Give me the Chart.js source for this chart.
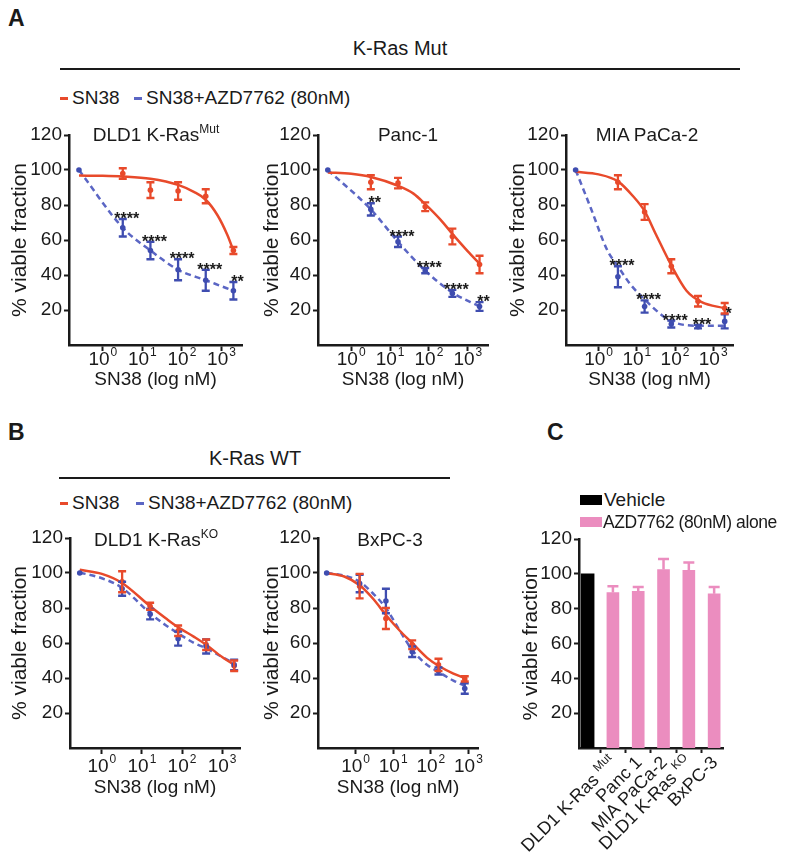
<!DOCTYPE html>
<html><head><meta charset="utf-8">
<script src="https://cdn.jsdelivr.net/npm/chart.js@4.4.1/dist/chart.umd.min.js"></script>
<style>
html,body{margin:0;padding:0;background:#fff;}
#fig{position:relative;width:800px;height:860px;overflow:hidden;background:#fff;color:#1a1a1a;}
#fig canvas{position:absolute;}
.t{position:absolute;white-space:nowrap;line-height:1.15;}
.sup{position:relative;top:-8px;font-size:13px;}
.r{position:absolute;}
</style></head><body><div id="fig"></div>
<script>
// ================= DATA =================
const xTickValues = [1, 10, 100, 1000];
const yTickValues = [20, 40, 60, 80, 100, 120];

// ---- Panel A : K-Ras Mut ----
const concA = [0.25, 3.2, 16, 80, 400, 2000];

const dld1MutSn38      = [null, 98, 88.5, 88, 85, 54];
const dld1MutSn38Err   = [0, 3, 4.5, 5, 4, 2];
const dld1MutCombo     = [100, 67, 54, 43, 37, 31];
const dld1MutComboErr  = [0, 5, 5, 6, 6, 5];
const dld1MutStars     = ['', '****', '****', '****', '****', '**'];
const dld1MutSn38FitX  = [0.25, 1, 3.2, 16, 80, 200, 400, 800, 1400, 2000];
const dld1MutSn38FitY  = [96.8, 96.7, 96.3, 95, 91.5, 87.5, 83, 74, 63, 54];
const dld1MutComboFitX = [0.25, 3.2, 16, 80, 400, 2000];
const dld1MutComboFitY = [100, 67, 54, 43, 37, 31];

const panc1Sn38      = [null, 93, 92.5, 79, 62, 46];
const panc1Sn38Err   = [0, 4, 3, 2.5, 4.5, 5];
const panc1Combo     = [100, 77.5, 59, 42.5, 29.5, 22];
const panc1ComboErr  = [0, 3.5, 3, 1.5, 2, 2.5];
const panc1Stars     = ['', '**', '****', '****', '****', '**'];
const panc1Sn38FitX  = [0.25, 1, 3.2, 16, 40, 80, 200, 400, 1000, 2000];
const panc1Sn38FitY  = [98.6, 97.8, 96, 91, 86.5, 80.5, 71.5, 63.5, 53.5, 46.5];
const panc1ComboFitX = [0.25, 3.2, 16, 80, 400, 2000];
const panc1ComboFitY = [100, 77.5, 59, 42.5, 30, 22];

const miaSn38      = [null, 93, 76, 45, 25, 21];
const miaSn38Err   = [0, 4, 4.5, 4, 3, 3];
const miaCombo     = [100, 39, 22, 12, 10.5, 13.5];
const miaComboErr  = [0, 6, 3.5, 2, 1, 4];
const miaStars     = ['', '****', '****', '****', '***', '*'];
const miaSn38FitX  = [0.25, 1, 3.2, 8, 16, 32, 80, 200, 500, 2000];
const miaSn38FitY  = [99, 97.5, 93.5, 85, 76.5, 63, 45.5, 31, 24.5, 21];
const miaComboFitX = [0.25, 0.63, 1.7, 3.2, 6.6, 16, 40, 80, 400, 2000];
const miaComboFitY = [100, 78, 54, 45, 35, 26, 18, 13.5, 11, 11];

// ---- Panel B : K-Ras WT ----
const concB1 = [0.28, 3.2, 16, 80, 400, 2000];
const dld1KoSn38      = [null, 95, 81, 67, 59, 47];
const dld1KoSn38Err   = [0, 6, 2, 3, 3, 3];
const dld1KoCombo     = [100, 91, 76.5, 62.5, 58, 47.5];
const dld1KoComboErr  = [0, 4, 3, 4, 4, 3];
const dld1KoSn38FitX  = [0.28, 1, 3.2, 16, 40, 80, 200, 400, 1000, 2000];
const dld1KoSn38FitY  = [101.8, 99.5, 94.3, 81, 74, 69, 63.5, 59, 52, 47.5];
const dld1KoComboFitX = [0.28, 1, 3.2, 16, 40, 80, 200, 400, 1000, 2000];
const dld1KoComboFitY = [100.3, 97, 91.5, 77, 70, 65.5, 60, 57, 52, 48.5];

const concB2 = [0.17, 1.28, 6.4, 32, 160, 800];
const bxSn38      = [null, 92.5, 74, 59, 47.5, 39.5];
const bxSn38Err   = [0, 7, 6, 2.5, 3.5, 1.5];
const bxCombo     = [100, 94, 84, 55, 44, 34];
const bxComboErr  = [0, 5, 7, 3, 2, 3];
const bxSn38FitX  = [0.17, 0.5, 1.28, 3, 6.4, 15, 32, 80, 160, 400, 800];
const bxSn38FitY  = [100, 98, 93, 85, 76, 67, 60, 51.5, 47, 42.5, 40];
const bxComboFitX = [0.17, 0.5, 1.28, 3, 6.4, 15, 32, 80, 160, 400, 800];
const bxComboFitY = [100, 98.5, 95, 88, 80, 67, 56, 47.5, 43.5, 38.5, 35.5];

// ---- Panel C ----
const cIndex   = [0, 1, 2, 3, 4, 5];
const cCatMain = ['', 'DLD1 K-Ras ', 'Panc 1', 'MIA PaCa-2', 'DLD1 K-Ras ', 'BxPC-3'];
const cCatSup  = ['', 'Mut', '', '', 'KO', ''];
const vehicle  = [100, null, null, null, null, null];
const azdAlone = [null, 89.3, 90, 102.5, 102, 88.5];
const azdErr   = [0, 3.5, 2.5, 6, 4.5, 4];

// ================= STYLE =================
const INK = '#1a1a1a';
const RED = '#E84A2B';
const BLUE = '#5B66C4';
const BLUE_DK = '#3F4DB0';
const PINK = '#EB8DBF';

function detectNarrow(){
  const c = document.createElement('canvas').getContext('2d');
  const s = 'abcdefghijklmnopqrstuvwxyzABCDEFGHIJKLMNOPQRSTUVWXYZ0123456789';
  c.font = '40px monospace'; const w1 = c.measureText(s).width;
  c.font = '40px "Liberation Sans Narrow", monospace'; const w2 = c.measureText(s).width;
  return Math.abs(w1 - w2) > 1;
}
const NARROW = detectNarrow();
const HFONT = NARROW ? '"Liberation Sans Narrow", "Liberation Sans", Arial, sans-serif' : '"Liberation Sans", Arial, sans-serif';
const HSIZE = NARROW ? 22 : 19;
const SUPSIZE = NARROW ? 14 : 12;
const VFONT = '"Liberation Sans", Arial, sans-serif';

Chart.defaults.font.family = HFONT;
Chart.defaults.color = INK;
Chart.defaults.animation = false;

const fig = document.getElementById('fig');
const pts = (xs, ys) => xs.map((x, i) => ({x: x, y: ys[i]}));

// error bars + stars
const errPlugin = {
  id: 'errbars',
  afterDatasetsDraw(chart) {
    const ctx = chart.ctx, xs = chart.scales.x, ys = chart.scales.y;
    chart.data.datasets.forEach(ds => {
      if (!ds.errs) return;
      ctx.save();
      ctx.strokeStyle = ds.errColor; ctx.lineWidth = ds.errWidth || 2.3;
      const cap = ds.cap || 4;
      ds.data.forEach((p, i) => {
        const e = ds.errs[i];
        if (p.y == null) return;
        const px = xs.getPixelForValue(p.x);
        const top = ys.getPixelForValue(p.y + e);
        const bot = ys.getPixelForValue(ds.upOnly ? p.y : p.y - e);
        if (e) {
          ctx.beginPath();
          ctx.moveTo(px, top); ctx.lineTo(px, bot);
          ctx.moveTo(px - cap, top); ctx.lineTo(px + cap, top);
          if (!ds.upOnly) { ctx.moveTo(px - cap, bot); ctx.lineTo(px + cap, bot); }
          ctx.stroke();
        }
        if (ds.stars && ds.stars[i]) {
          ctx.fillStyle = INK; ctx.font = 'bold 16px ' + VFONT;
          ctx.textAlign = 'center'; ctx.textBaseline = 'alphabetic';
          ctx.fillText(ds.stars[i], px + 4, top + 5);
        }
      });
      ctx.restore();
    });
  }
};

function logTickPlugin(yPos) {
  return {
    id: 'logticks',
    afterDraw(chart) {
      const ctx = chart.ctx, xs = chart.scales.x;
      ctx.save(); ctx.fillStyle = INK; ctx.textBaseline = 'middle'; ctx.textAlign = 'left';
      xTickValues.forEach(v => {
        const px = xs.getPixelForValue(v);
        const exp = String(Math.round(Math.log10(v)));
        ctx.font = HSIZE + 'px ' + HFONT; const wb = ctx.measureText('10').width;
        ctx.font = SUPSIZE + 'px ' + HFONT; const we = ctx.measureText(exp).width;
        const x0 = px - (wb + we + 1) / 2;
        ctx.font = HSIZE + 'px ' + HFONT; ctx.fillText('10', x0, yPos);
        ctx.font = SUPSIZE + 'px ' + HFONT; ctx.fillText(exp, x0 + wb + 1, yPos - 7);
      });
      ctx.restore();
    }
  };
}

function yScale(yW) {
  return {
    min: 0, max: 120,
    afterBuildTicks: s => { s.ticks = yTickValues.map(v => ({value: v})); },
    afterFit: s => { s.width = yW; },
    ticks: {font: {size: HSIZE, family: HFONT}, color: INK, padding: 2},
    grid: {drawOnChartArea: false, drawTicks: true, tickLength: 5, tickWidth: 2, tickColor: INK},
    border: {display: true, width: 2.5, color: INK},
    title: {display: true, text: '% viable fraction', color: INK,
            font: {size: 21, family: VFONT}, padding: {top: 20 - 12.6, bottom: 0}}
  };
}

function makeCanvas(l, t, w, h) {
  const cv = document.createElement('canvas');
  cv.width = w; cv.height = h;
  cv.style.left = l + 'px'; cv.style.top = t + 'px';
  fig.appendChild(cv);
  return cv;
}

function doseChart(g, d) {
  const cL = g.ytitleX - 20, cT = g.plotT - 20;
  const cW = g.plotR + 20 - cL, cH = g.xtitleY + 15 - cT;
  const yW = g.plotL - cL, xH = cH - (g.plotB - cT);
  const cv = makeCanvas(cL, cT, cW, cH);
  new Chart(cv, {
    type: 'line',
    data: {datasets: [
      {data: pts(d.conc, d.combo), errs: d.comboErr, stars: d.stars, errColor: BLUE_DK,
       showLine: false, pointRadius: 2.8, pointBorderWidth: 0, pointBackgroundColor: BLUE_DK},
      {data: pts(d.conc, d.sn38), errs: d.sn38Err, errColor: RED,
       showLine: false, pointRadius: 2.8, pointBorderWidth: 0, pointBackgroundColor: RED},
      {data: pts(d.sn38FitX, d.sn38FitY), borderColor: RED, borderWidth: 2.5,
       pointRadius: 0, cubicInterpolationMode: 'monotone', fill: false},
      {data: pts(d.comboFitX, d.comboFitY), borderColor: BLUE, borderWidth: 2.5, borderDash: [6, 4],
       pointRadius: 0, cubicInterpolationMode: 'monotone', fill: false}
    ]},
    options: {
      responsive: false, animation: false, devicePixelRatio: 1,
      layout: {padding: {top: 20, right: 20, left: 0, bottom: 0}},
      plugins: {legend: {display: false}, tooltip: {enabled: false}},
      scales: {
        x: {type: 'logarithmic', min: g.xmin, max: g.xmax, position: 'bottom',
            afterBuildTicks: s => { s.ticks = xTickValues.map(v => ({value: v})); },
            afterFit: s => { s.height = xH; },
            ticks: {callback: () => '', autoSkip: false, maxRotation: 0},
            grid: {drawOnChartArea: false, drawTicks: true, tickLength: 6, tickWidth: 2, tickColor: INK},
            border: {display: true, width: 2.5, color: INK},
            title: {display: true, text: 'SN38 (log nM)', color: INK,
                    font: {size: HSIZE, family: HFONT}, padding: {top: 0, bottom: 15 - HSIZE * 0.6}}},
        y: yScale(yW)
      }
    },
    plugins: [errPlugin, logTickPlugin(g.xtickY - cT)]
  });
}

// ---- Panel A charts ----
doseChart({plotL: 69, plotT: 135, plotR: 242, plotB: 345, ytitleX: 20, xtitleY: 380, xtickY: 360, xmin: 0.14, xmax: 3300},
  {conc: concA, sn38: dld1MutSn38, sn38Err: dld1MutSn38Err, combo: dld1MutCombo, comboErr: dld1MutComboErr, stars: dld1MutStars,
   sn38FitX: dld1MutSn38FitX, sn38FitY: dld1MutSn38FitY, comboFitX: dld1MutComboFitX, comboFitY: dld1MutComboFitY});
doseChart({plotL: 318, plotT: 135, plotR: 488, plotB: 345, ytitleX: 272, xtitleY: 380, xtickY: 360, xmin: 0.14, xmax: 3300},
  {conc: concA, sn38: panc1Sn38, sn38Err: panc1Sn38Err, combo: panc1Combo, comboErr: panc1ComboErr, stars: panc1Stars,
   sn38FitX: panc1Sn38FitX, sn38FitY: panc1Sn38FitY, comboFitX: panc1ComboFitX, comboFitY: panc1ComboFitY});
doseChart({plotL: 566, plotT: 135, plotR: 733, plotB: 345, ytitleX: 518, xtitleY: 380, xtickY: 360, xmin: 0.14, xmax: 3300},
  {conc: concA, sn38: miaSn38, sn38Err: miaSn38Err, combo: miaCombo, comboErr: miaComboErr, stars: miaStars,
   sn38FitX: miaSn38FitX, sn38FitY: miaSn38FitY, comboFitX: miaComboFitX, comboFitY: miaComboFitY});

// ---- Panel B charts ----
doseChart({plotL: 70, plotT: 538, plotR: 240, plotB: 748, ytitleX: 20, xtitleY: 788, xtickY: 767, xmin: 0.16, xmax: 2800},
  {conc: concB1, sn38: dld1KoSn38, sn38Err: dld1KoSn38Err, combo: dld1KoCombo, comboErr: dld1KoComboErr, stars: null,
   sn38FitX: dld1KoSn38FitX, sn38FitY: dld1KoSn38FitY, comboFitX: dld1KoComboFitX, comboFitY: dld1KoComboFitY});
doseChart({plotL: 318, plotT: 538, plotR: 478, plotB: 748, ytitleX: 272, xtitleY: 788, xtickY: 767, xmin: 0.1, xmax: 1800},
  {conc: concB2, sn38: bxSn38, sn38Err: bxSn38Err, combo: bxCombo, comboErr: bxComboErr, stars: null,
   sn38FitX: bxSn38FitX, sn38FitY: bxSn38FitY, comboFitX: bxComboFitX, comboFitY: bxComboFitY});

// ---- Panel C bar chart ----
(function(){
  const g = {plotL: 579, plotT: 539, plotR: 723, plotB: 748, ytitleX: 531};
  const cL = g.ytitleX - 20, cT = g.plotT - 20, cW = g.plotR + 20 - cL, cH = 860 - cT;
  const yW = g.plotL - cL, xH = cH - (g.plotB - cT);
  const cv = makeCanvas(cL, cT, cW, cH);
  const labelPlugin = {
    id: 'clabels',
    afterDraw(chart) {
      const ctx = chart.ctx, xs = chart.scales.x, bottom = chart.chartArea.bottom;
      cCatMain.forEach((m, i) => {
        if (!m) return;
        const px = xs.getPixelForValue(cIndex[i]);
        ctx.save();
        ctx.fillStyle = INK; ctx.textAlign = 'right'; ctx.textBaseline = 'middle';
        ctx.translate(px + 1, bottom + 12); ctx.rotate(-Math.PI / 4);
        let supW = 0;
        if (cCatSup[i]) {
          ctx.font = SUPSIZE + 'px ' + HFONT; supW = ctx.measureText(cCatSup[i]).width;
          ctx.fillText(cCatSup[i], 0, -6);
        }
        ctx.font = (HSIZE - 1) + 'px ' + HFONT;
        ctx.fillText(m, -supW, 0);
        ctx.restore();
      });
    }
  };
  new Chart(cv, {
    type: 'bar',
    data: {datasets: [
      {label: 'Vehicle', data: pts(cIndex, vehicle), backgroundColor: '#000', barThickness: 13, grouped: false},
      {label: 'AZD7762 (80nM) alone', data: pts(cIndex, azdAlone), backgroundColor: PINK, barThickness: 12, grouped: false,
       errs: azdErr, errColor: PINK, upOnly: true, cap: 5.5, errWidth: 2.5}
    ]},
    options: {
      responsive: false, animation: false, devicePixelRatio: 1,
      layout: {padding: {top: 20, right: 20, left: 0, bottom: 0}},
      plugins: {legend: {display: false}, tooltip: {enabled: false}},
      scales: {
        x: {type: 'linear', min: -0.34, max: 5.35, offset: false,
            afterBuildTicks: s => { s.ticks = cIndex.map(v => ({value: v})); },
            afterFit: s => { s.height = xH; },
            ticks: {callback: () => '', autoSkip: false, maxRotation: 0},
            grid: {drawOnChartArea: false, drawTicks: true, tickLength: 5, tickWidth: 2, tickColor: INK},
            border: {display: true, width: 2.5, color: INK}},
        y: yScale(yW)
      }
    },
    plugins: [errPlugin, labelPlugin]
  });
})();

// ================= HTML TEXT =================
function addText(html, x, y, o) {
  o = o || {};
  const d = document.createElement('div'); d.className = 't'; d.innerHTML = html;
  d.style.fontFamily = o.family || HFONT; d.style.fontSize = (o.size || HSIZE) + 'px';
  if (o.bold) d.style.fontWeight = 'bold';
  if (o.ls) d.style.letterSpacing = o.ls + 'px';
  d.style.left = x + 'px'; d.style.top = y + 'px';
  d.style.transform = o.center ? 'translate(-50%,-50%)' : 'translate(0,-50%)';
  fig.appendChild(d); return d;
}
function addRect(x, y, w, h, c) {
  const d = document.createElement('div'); d.className = 'r';
  d.style.left = x + 'px'; d.style.top = y + 'px'; d.style.width = w + 'px'; d.style.height = h + 'px';
  d.style.background = c; fig.appendChild(d);
}
const SUPHTML = s => '<span class="sup" style="font-size:' + SUPSIZE + 'px">' + s + '</span>';

// Panel A header
addText('A', 8, 18, {bold: true, size: 23, family: VFONT});
addText('K-Ras Mut', 400, 48, {center: true, size: HSIZE + 1});
addRect(60, 68, 680, 2, INK);
addRect(60, 97, 8, 3, RED); addText('SN38', 72, 98);
addRect(134, 97, 8, 3, BLUE); addText('SN38+AZD7762 (80nM)', 146, 98);
addText('DLD1 K-Ras' + SUPHTML('Mut'), 156, 135, {center: true});
addText('Panc-1', 408, 135, {center: true});
addText('MIA PaCa-2', 647, 135, {center: true});

// Panel B header
addText('B', 8, 432, {bold: true, size: 23, family: VFONT});
addText('K-Ras WT', 255, 458, {center: true, size: HSIZE + 1});
addRect(59, 477, 391, 2, INK);
addRect(60, 502, 8, 3, RED); addText('SN38', 72, 503);
addRect(136, 502, 8, 3, BLUE); addText('SN38+AZD7762 (80nM)', 148, 503);
addText('DLD1 K-Ras' + SUPHTML('KO'), 156, 540, {center: true});
addText('BxPC-3', 390, 540, {center: true});

// Panel C header + legend
addText('C', 547, 432, {bold: true, size: 23, family: VFONT});
addRect(580, 495, 22, 10, '#000'); addText('Vehicle', 604, 500);
addRect(580, 517, 22, 10, PINK); addText('AZD7762 (80nM) alone', 603, 522, {size: HSIZE - 1.5, ls: -0.4});
</script>
</body></html>
